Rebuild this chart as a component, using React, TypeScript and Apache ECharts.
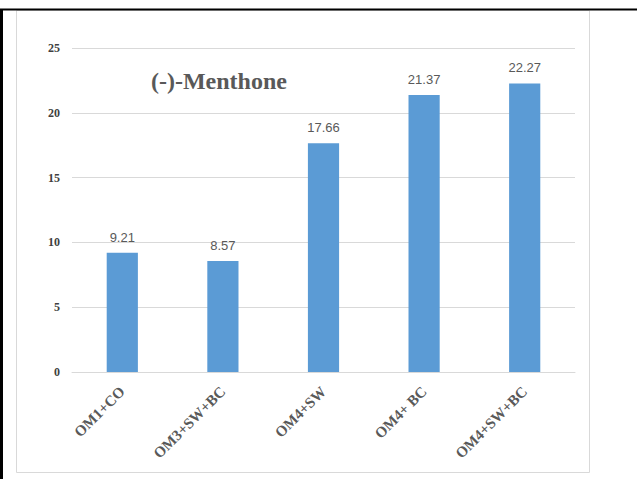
import React, { useEffect, useRef } from "react";
import * as echarts from "echarts";

const categories = ["OM1+CO", "OM3+SW+BC", "OM4+SW", "OM4+ BC", "OM4+SW+BC"];
const values = [9.21, 8.57, 17.66, 21.37, 22.27];
const yMax = 25;
const yInterval = 5;
const chartTitle = "(-)-Menthone";

export default function App() {
  const ref = useRef<HTMLDivElement>(null);

  useEffect(() => {
    if (!ref.current) return;
    const chart = echarts.init(ref.current, undefined, { renderer: "svg" });
    chart.setOption({
      animation: false,
      backgroundColor: "#ffffff",
      graphic: [
        {
          type: "rect",
          shape: { x: 16.5, y: 10.5, width: 573, height: 462 },
          style: { fill: "#ffffff", stroke: "#d9d9d9", lineWidth: 1 },
          z: -10,
        },
        {
          type: "line",
          shape: { x1: 0, y1: 9.5, x2: 637, y2: 9.5 },
          style: { stroke: "#000000", lineWidth: 2 },
        },
        {
          type: "line",
          shape: { x1: 1.5, y1: 9, x2: 1.5, y2: 479 },
          style: { stroke: "#000000", lineWidth: 3 },
        },
        {
          type: "text",
          left: 151,
          top: 69,
          style: {
            text: chartTitle,
            font: "bold 24px 'Liberation Serif', serif",
            fill: "#595959",
          },
        },
      ],
      grid: { left: 72, right: 62, top: 48, bottom: 107 },
      xAxis: {
        type: "category",
        data: categories,
        axisLine: { show: true, lineStyle: { color: "#d9d9d9", width: 1 } },
        axisTick: { show: false },
        axisLabel: {
          rotate: 45,
          interval: 0,
          margin: 17,
          color: "#595959",
          fontFamily: "'Liberation Serif', serif",
          fontSize: 15,
          fontWeight: "bold",
        },
      },
      yAxis: {
        type: "value",
        min: 0,
        max: yMax,
        interval: yInterval,
        axisLine: { show: false },
        axisTick: { show: false },
        splitLine: { lineStyle: { color: "#d9d9d9", width: 1 } },
        axisLabel: {
          margin: 12,
          color: "#404040",
          fontFamily: "'Liberation Serif', serif",
          fontSize: 12,
          fontWeight: "bold",
        },
      },
      series: [
        {
          type: "bar",
          data: values,
          barWidth: "31%",
          itemStyle: { color: "#5b9bd5" },
          label: {
            show: true,
            position: "top",
            distance: 9,
            color: "#595959",
            fontFamily: "'Liberation Sans', sans-serif",
            fontSize: 13,
            formatter: (p: any) => p.value.toFixed(2),
          },
        },
      ],
    });
    return () => chart.dispose();
  }, []);

  return (
    <div
      ref={ref}
      style={{ position: "fixed", left: 0, top: 0, width: 637, height: 479 }}
    />
  );
}
